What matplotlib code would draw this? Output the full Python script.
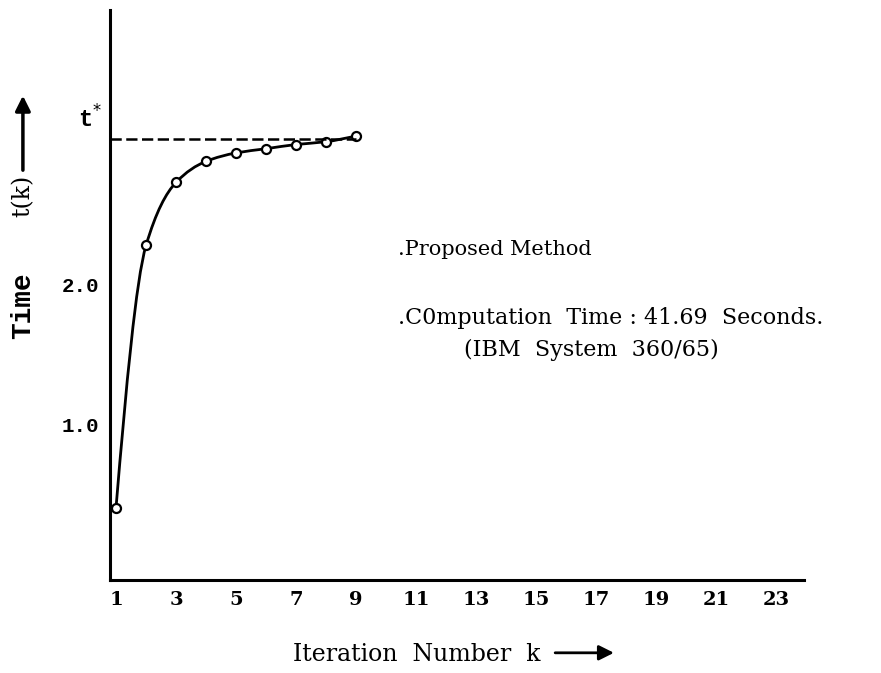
import numpy as np
import matplotlib
matplotlib.use('Agg')
import matplotlib.pyplot as plt
from matplotlib.path import Path
from matplotlib.patches import PathPatch, FancyArrowPatch

#%% data
k = np.array([1, 2, 3, 4, 5, 6, 7, 8, 9])
t_k = np.array([0.41, 2.28, 2.73, 2.88, 2.94, 2.97, 3.00, 3.02, 3.06])
t_star = 3.04
xticks = np.arange(1, 24, 2)
yticks = [1.0, 2.0]
ytick_labels = ['1.0', '2.0']

#%% smooth curve through the points (monotone cubic tangents -> bezier)
h = np.diff(k).astype(float)
sec = np.diff(t_k) / h
d = np.zeros(len(k))
d[1:-1] = 2 * sec[:-1] * sec[1:] / (sec[:-1] + sec[1:])
d[0] = ((2 * h[0] + h[1]) * sec[0] - h[0] * sec[1]) / (h[0] + h[1])
d[-1] = sec[-1]
verts = [(k[0], t_k[0])]
codes = [Path.MOVETO]
for i in range(len(k) - 1):
    verts += [(k[i] + h[i] / 3, t_k[i] + d[i] * h[i] / 3),
              (k[i + 1] - h[i] / 3, t_k[i + 1] - d[i + 1] * h[i] / 3),
              (k[i + 1], t_k[i + 1])]
    codes += [Path.CURVE4] * 3

#%%
fig = plt.figure(figsize=(8.81, 6.73), dpi=100)
ax = fig.add_axes([0.1249, 0.1382, 0.7877, 0.847])
ax.set_xlim(0.8, 23.93)
ax.set_ylim(-0.107, 3.96)

ax.add_patch(PathPatch(Path(verts, codes), fill=False, lw=2.0, color='black'))
ax.plot(k, t_k, 'o', ms=6.5, mfc='white', mec='black', mew=1.6)
ax.plot([0.8, 9], [t_star, t_star], '--', color='black', lw=1.8, dashes=(4.5, 1.8))

for s in ['top', 'right']:
    ax.spines[s].set_visible(False)
for s in ['left', 'bottom']:
    ax.spines[s].set_linewidth(2.2)

ax.set_xticks(xticks)
ax.set_xticklabels([str(v) for v in xticks], fontfamily='DejaVu Serif',
                   fontsize=14, fontweight='bold')
ax.set_yticks(yticks)
ax.set_yticklabels(ytick_labels, fontfamily='Liberation Mono', fontsize=15,
                   fontweight='bold')
ax.tick_params(length=0, pad=8)
ax.text(-0.012, t_star + 0.14, 't$^{*}$', transform=ax.get_yaxis_transform(),
        ha='right', va='center', fontsize=17, fontfamily='Liberation Mono',
        fontweight='bold')

#%% annotations
serif = 'DejaVu Serif'
ax.text(10.4, 2.21, '.Proposed Method', fontsize=15, fontfamily=serif)
ax.text(10.4, 1.72, '.C0mputation  Time : 41.69  Seconds.', fontsize=16,
        fontfamily=serif)
ax.text(12.6, 1.49, '(IBM  System  360/65)', fontsize=16, fontfamily=serif)

# axis titles with arrows
fig.text(0.333, 0.027, 'Iteration  Number  k', fontsize=17, fontfamily=serif,
         va='center')
fig.add_artist(FancyArrowPatch(
    (0.627, 0.030), (0.700, 0.030), transform=fig.transFigure,
    arrowstyle='-|>,head_length=6,head_width=3', lw=2, color='black',
    mutation_scale=1.5))
fig.text(0.026, 1 - 306 / 673, 'Time', rotation=90, fontsize=20,
         fontfamily='Liberation Mono', fontweight='bold', ha='center', va='center')
fig.text(0.026, 1 - 196 / 673, 't(k)', rotation=90, fontsize=17,
         fontfamily=serif, ha='center', va='center')
fig.add_artist(FancyArrowPatch(
    (0.026, 0.743), (0.026, 0.862), transform=fig.transFigure,
    arrowstyle='-|>,head_length=6,head_width=3', lw=2.5, color='black',
    mutation_scale=1.5))

plt.savefig('out.png', dpi=100, facecolor='white')
